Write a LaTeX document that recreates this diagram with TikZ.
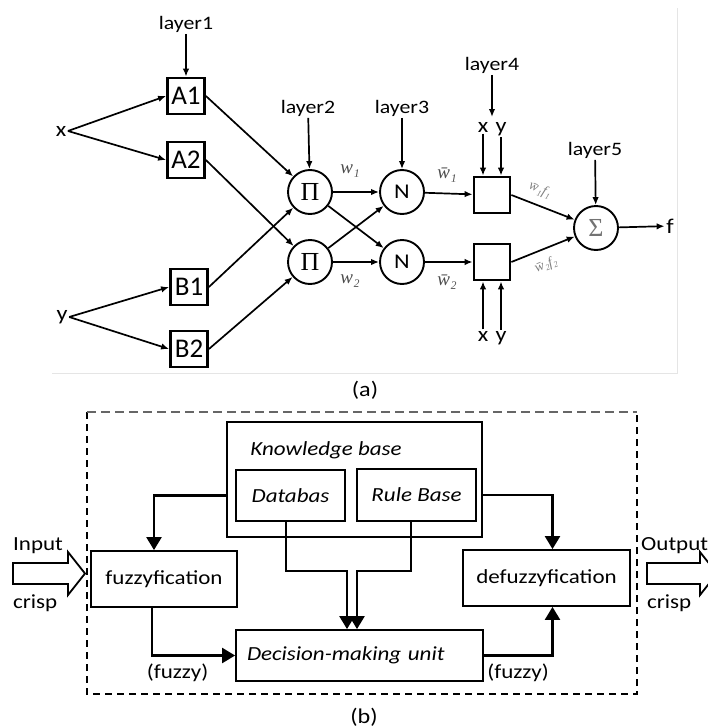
\documentclass[tikz,border=0pt]{standalone}
\usepackage[no-math]{fontspec}
\setmainfont{Carlito}[FakeStretch=1.15]
\newfontfamily\tallfont{Carlito}
\newfontfamily\serif{Liberation Serif}
\usetikzlibrary{arrows.meta,calc,positioning}

\begin{document}
\begin{tikzpicture}[x=1pt,y=-1pt,
	lyr/.style={inner sep=1.5pt,font=\fontsize{19}{19}\selectfont},
	var/.style={inner sep=1.5pt,font=\fontsize{21}{21}\selectfont},
	mf/.style={draw,line width=2.8pt,minimum width=37pt,minimum height=36pt,inner sep=0pt,font=\tallfont\fontsize{27}{27}\selectfont},
	op/.style={draw,circle,line width=1.9pt,minimum size=44pt,inner sep=0pt,font=\fontsize{21}{21}\selectfont},
	gk/.style={font=\serif\fontsize{26}{26}\selectfont},
	rl/.style={draw,line width=2.8pt,minimum width=36pt,minimum height=36pt,inner sep=0pt},
	sig/.style={-{Latex[length=8pt,width=6.5pt]},line width=1.7pt},
	wt/.style={text=black!70,inner sep=0pt,font=\serif\itshape\fontsize{19}{19}\selectfont},
	wf/.style={text=black!50,inner sep=0pt,font=\serif\itshape\fontsize{14}{14}\selectfont},
	blk/.style={draw,line width=1.8pt,inner sep=0pt,font=\fontsize{20}{20}\selectfont},
	flow/.style={-{Triangle[length=13pt,width=15pt]},line width=2.3pt},
	txt/.style={inner sep=0pt,font=\fontsize{20}{20}\selectfont}]
	\useasboundingbox (0,0) rectangle (708,728);
	\clip (0,0) rectangle (708,728);
	%%%%% (a) ANFIS %%%%%
	\def\colx{186}
	\def\rtop{192}
	\def\rbot{262}
	
	\draw[black!10,line width=0.8pt] (52,373) -- (677,373) -- (677,8);
	
	\node[var] (x) at (61,131) {x};
	\node[var] (y) at (62,317) {y};
	
	\node[lyr] (lay1) at (\colx,24) {layer1};
	\node[mf] (A1) at (\colx,96) {A1};
	\node[mf] (A2) at (\colx,160) {A2};
	\node[mf] (B1) at (189,287) {B1};
	\node[mf] (B2) at (189,349) {B2};
	
	\node[lyr] (lay2) at (308,108) {layer2};
	\node[op,gk] (P1) at (310,\rtop) {Π};
	\node[op,gk] (P2) at (310,\rbot) {Π};
	
	\node[lyr] (lay3) at (402,108) {layer3};
	\node[op] (N1) at (402,\rtop) {N};
	\node[op] (N2) at (402,\rbot) {N};
	
	\node[lyr] (lay4) at (492,65) {layer4};
	\coordinate (lay4e) at (492,117);
	\node[var] (xa) at (483,127) {x};
	\node[var] (ya) at (501,129) {y};
	\node[rl] (R1) at (492,195) {};
	\node[rl] (R2) at (492,\rbot) {};
	\node[var] (xb) at (483,336) {x};
	\node[var] (yb) at (501,338) {y};
	
	\node[lyr] (lay5) at (595,150) {layer5};
	\node[op,gk,text=black!55] (S) at (596,228) {Σ};
	\node[var] (f) at (670,226) {f};
	
	% weights
	\node[wt] (w1) at (350,171) {w₁};
	\node[wt] (w2) at (350,281) {w₂};
	\node[wt] (wb1) at (447,175) {w̄₁};
	\node[wt] (wb2) at (447,282) {w̄₂};
	\node[wf,rotate=-22] (wf1) at (540,190) {w̄₁f₁};
	\node[wf,rotate=22] (wf2) at (546,265) {w̄₂f₂};
	
	\draw[sig] (lay1) -- (A1);
	\draw[sig] (x.east) -- (A1.west);
	\draw[sig] (x.east) -- (A2.west);
	\draw[sig] (y.east) -- (B1.west);
	\draw[sig] (y.east) -- (B2.west);
	\draw[sig] (A1.east) -- (P1);
	\draw[sig] (A2.east) -- (P2);
	\draw[sig] (B1.east) -- (P1);
	\draw[sig] (B2.east) -- (P2);
	\draw[sig] (lay2) -- (P1);
	\draw[sig] (lay3) -- (N1);
	\draw[sig] (P1) -- (N1);
	\draw[sig] (P1) -- (N2);
	\draw[sig] (P2) -- (N1);
	\draw[sig] (P2) -- (N2);
	\draw[sig] (N1) -- (R1);
	\draw[sig] (N2) -- (R2);
	\draw[sig] (lay4) -- (lay4e);
	\draw[sig] (xa) -- (xa |- R1.north);
	\draw[sig] (ya) -- (ya |- R1.north);
	\draw[sig] (xb) -- (xb |- R2.south);
	\draw[sig] (yb) -- (yb |- R2.south);
	\draw[sig] (R1.east) -- (S);
	\draw[sig] (R2.east) -- (S);
	\draw[sig] (lay5) -- (S);
	\draw[sig] (S) -- (f);
	
	\node[txt,font=\fontsize{21}{21}\selectfont] (capa) at (365,390) {(a)};
	
	%%%%% (b) FUZZY INFERENCE %%%%%
	\draw[line width=1.8pt,dash pattern=on 7pt off 5pt] (87,412) -- (87,694) -- (637,694) -- (637,412);
	\draw[black!60,line width=1.2pt,dash pattern=on 9pt off 5pt] (87,412) -- (637,412);
	
	\node[blk,minimum width=255pt,minimum height=115pt] (KB) at (354.5,479.5) {};
	\node[txt,font=\fontsize{20}{20}\selectfont\itshape] (KBt) at (326,450) {Knowledge base};
	\node[blk,minimum width=109pt,minimum height=51pt,font=\fontsize{20}{20}\selectfont\itshape] (DB) at (290.5,495.5) {Databas};
	\node[blk,minimum width=119pt,minimum height=52pt,font=\fontsize{20}{20}\selectfont\itshape] (RB) at (416.5,495) {Rule Base};
	\node[blk,minimum width=146pt,minimum height=56pt] (FZ) at (164,579) {fuzzyfication};
	\node[blk,minimum width=247pt,minimum height=51pt,text width=225pt,align=left,inner xsep=11pt,font=\fontsize{20}{20}\selectfont\itshape] (DM) at (359.5,655.5) {Decision-making unit};
	\node[blk,minimum width=167pt,minimum height=56pt] (DF) at (546.5,578) {defuzzyfication};
	
	\coordinate (jl) at (347,571);
	\coordinate (jr) at (357,571);
	\draw[flow] (KB.west |- DB) -| ([xshift=-10pt]FZ.north);
	\draw[flow] (KB.east |- RB) -| ([xshift=6pt]DF.north);
	\draw[flow] ([xshift=-4.5pt]DB.south) |- (jl) -- (jl |- DM.north);
	\draw[flow] ([xshift=-5.5pt]RB.south) |- (jr) -- (jr |- DM.north);
	\draw[flow] ([xshift=-12pt]FZ.south) |- (DM.west);
	\draw[flow] (DM.east) -| ([xshift=6pt]DF.south);
	
	\node[txt] (fz1) at (177.5,673) {(fuzzy)};
	\node[txt] (fz2) at (518,673) {(fuzzy)};
	
	% crisp in / out
	\draw[line width=1.8pt] (13,563) -- (68,563) -- (68,552) -- (85,573.5) -- (68,595) -- (68,584) -- (13,584) -- cycle;
	\node[txt,anchor=west] (inp) at (13,546) {Input};
	\node[txt,anchor=west] (cin) at (13,603) {crisp};
	\draw[line width=1.8pt] (647,563) -- (700,563) -- (700,552) -- (717,573.5) -- (700,595) -- (700,584) -- (647,584) -- cycle;
	\node[txt,anchor=west] (outp) at (641,546) {Output};
	\node[txt,anchor=west] (cout) at (647,603) {crisp};
	
	\node[txt,font=\fontsize{21}{21}\selectfont] (capb) at (364,717) {(b)};
	%%%%% END %%%%%
\end{tikzpicture}
\end{document}
